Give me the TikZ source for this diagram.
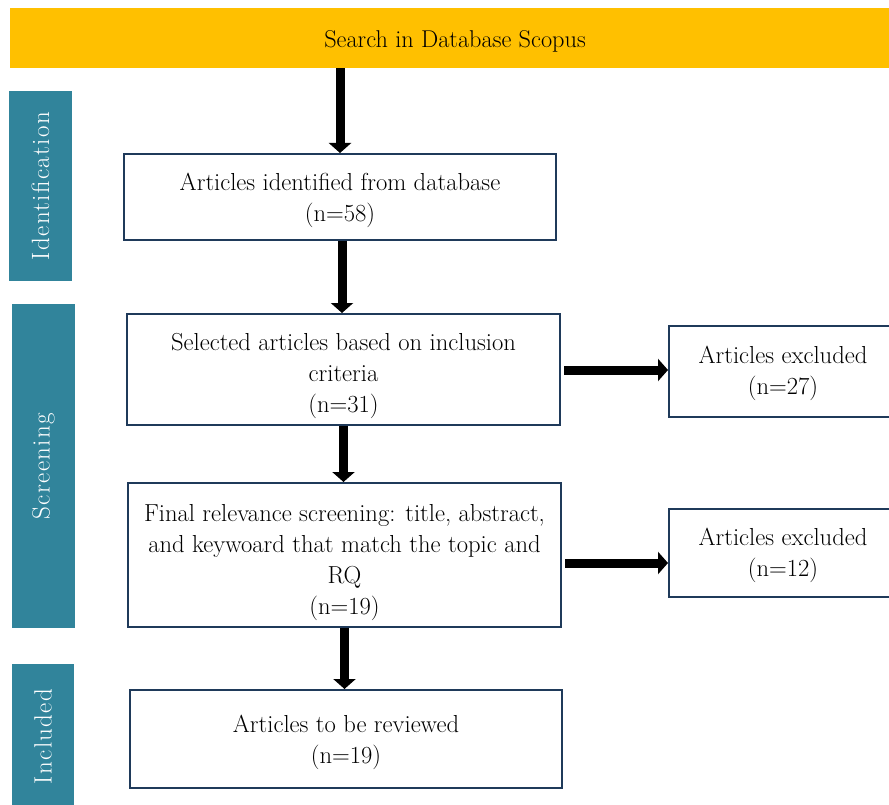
\documentclass[tikz,border=0pt]{standalone}
\usepackage{fontspec}
\setmainfont{Latin Modern Roman}
\newfontfamily\phasefont{Latin Modern Roman}[LetterSpace=5.5]
\usetikzlibrary{arrows.meta}
\definecolor{bannerY}{HTML}{FFC000}
\definecolor{phaseT}{HTML}{31849B}
\definecolor{boxline}{HTML}{1F3A5A}
\tikzset{
  flowbox/.style={draw=boxline, line width=2pt, fill=white, inner sep=0pt},
  boxtext/.style={align=center, inner sep=0pt, font=\fontsize{24.6}{31}\selectfont},
  phasebar/.style={fill=phaseT, draw=none, inner sep=0pt},
  phaselabel/.style={text=white, rotate=90, inner sep=0pt,
    font=\phasefont\fontsize{25}{30}\selectfont},
  bigarrow/.style={line width=9pt, -{Triangle[width=22pt,length=10pt]}},
}
\begin{document}
\begin{tikzpicture}[x=1pt,y=-1pt]
\useasboundingbox (0,0) rectangle (889,805);
\fill[white] (0,0) rectangle (889,805);
% banner
\node[fill=bannerY, minimum width=890pt, minimum height=60pt, inner sep=0pt] (banner) at (455,38) {};
\node[boxtext, font=\fontsize{24.3}{31}\selectfont, yshift=-3pt] (bantext) at (banner.center) {Search in Database Scopus};
% phase bars
\node[phasebar, minimum width=63pt, minimum height=190pt] (idbar) at (40.5,186) {};
\node[phaselabel] (idlab) at (idbar.center) {Identification};
\node[phasebar, minimum width=63pt, minimum height=324pt] (scbar) at (43.5,466) {};
\node[phaselabel] (sclab) at (scbar.center) {Screening};
\node[phasebar, minimum width=62pt, minimum height=145pt] (inbar) at (43,736.5) {};
\node[phaselabel] (inlab) at (inbar.center) {Included};
% boxes
\node[flowbox, minimum width=432pt, minimum height=86pt] (b1) at (340,197) {};
\node[boxtext, yshift=-3pt] (t1) at (b1.center) {Articles identified from database\\(n=58)};
\node[flowbox, minimum width=433pt, minimum height=111pt] (b2) at (343.5,369.5) {};
\node[boxtext, yshift=-6pt] (t2) at (b2.center) {Selected articles based on inclusion\\criteria\\(n=31)};
\node[flowbox, minimum width=433pt, minimum height=144pt] (b3) at (344.5,555) {};
\node[boxtext, yshift=-8pt] (t3) at (b3.center) {Final relevance screening: title, abstract,\\and keywoard that match the topic and\\RQ\\(n=19)};
\node[flowbox, minimum width=432pt, minimum height=98pt] (b4) at (346,739) {};
\node[boxtext, yshift=-3pt] (t4) at (b4.center) {Articles to be reviewed\\(n=19)};
\node[flowbox, minimum width=228pt, minimum height=91pt] (e1) at (783,371.5) {};
\node[boxtext, yshift=-2pt] (te1) at (e1.center) {Articles excluded\\(n=27)};
\node[flowbox, minimum width=228pt, minimum height=88pt] (e2) at (783,553) {};
\node[boxtext, yshift=-2pt] (te2) at (e2.center) {Articles excluded\\(n=12)};
% arrows
\draw[bigarrow] (banner.south -| b1.north) -- (b1.north);
\draw[bigarrow] ([xshift=2pt]b1.south) -- ([xshift=2pt]b1.south |- b2.north);
\draw[bigarrow] (b2.south) -- (b2.south |- b3.north);
\draw[bigarrow] (b3.south) -- (b3.south |- b4.north);
\draw[bigarrow, shorten <=3pt] ([yshift=-0.5pt]b2.east) -- ([yshift=-0.5pt]b2.east -| e1.west);
\draw[bigarrow, shorten <=3pt] ([yshift=-8pt]b3.east) -- ([yshift=-8pt]b3.east -| e2.west);
\end{tikzpicture}
\end{document}
